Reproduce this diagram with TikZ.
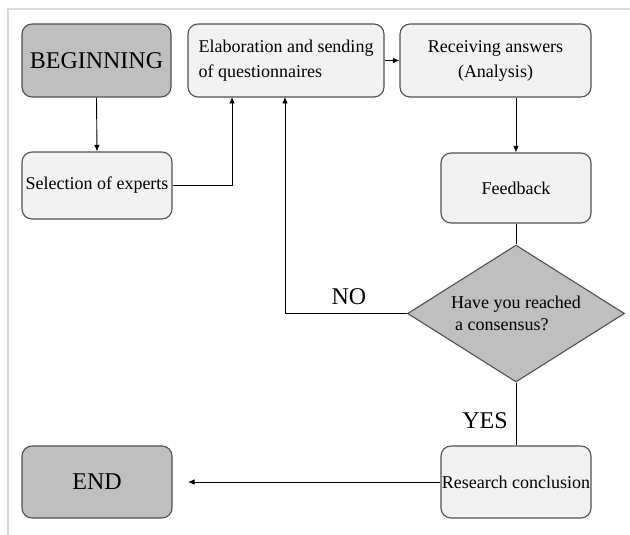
\documentclass[tikz,border=0pt]{standalone}
\usepackage{fontspec}
\setmainfont{Liberation Serif}
\usetikzlibrary{shapes.geometric,arrows.meta}
\definecolor{boxdark}{HTML}{BFBFBF}
\definecolor{boxlight}{HTML}{F2F2F2}
\definecolor{edge}{HTML}{505050}
\definecolor{frame}{HTML}{D9D9D9}
\tikzset{
  base/.style={draw=edge, line width=1.1pt, rounded corners=10pt, inner sep=0pt,
    font=\fontsize{18}{25}\selectfont, align=center},
  darkbox/.style={base, fill=boxdark, font=\fontsize{24}{28}\selectfont},
  lightbox/.style={base, fill=boxlight},
  decision/.style={diamond, draw=edge, line width=1.1pt, fill=boxdark, inner sep=0pt,
    minimum width=217pt, minimum height=137pt, aspect=1.584,
    font=\fontsize{18}{22}\selectfont, align=left},
  conn/.style={line width=0.9pt, draw=black},
  arr/.style={conn, -{Latex[length=6.5pt,width=5.5pt]}},
  lbl/.style={font=\fontsize{24}{28}\selectfont, inner sep=0pt}
}
\begin{document}
\begin{tikzpicture}[x=1pt,y=-1pt]
\useasboundingbox (0,0) rectangle (630,535);
% frame
\draw[frame, line width=2pt] (630,9) -- (8,9) -- (8,535);
% nodes
\node[darkbox, minimum width=149pt, minimum height=73pt] (begin) at (96.5,60.5) {BEGINNING};
\node[lightbox, align=left, minimum width=196pt, minimum height=73pt] (elab) at (286,60.5) {Elaboration and sending\\of questionnaires};
\node[lightbox, minimum width=191pt, minimum height=73pt] (recv) at (495.5,60.5) {Receiving answers\\(Analysis)};
\node[lightbox, minimum width=150pt, minimum height=67pt] (sel) at (97,185.5) {Selection of experts};
\node[lightbox, minimum width=150pt, minimum height=70pt] (fb) at (516,188) {Feedback};
\node[decision] (dia) at (516,313.5) {Have you reached\\\hspace{4pt}a consensus?};
\node[lightbox, minimum width=150pt, minimum height=72pt] (rc) at (516,482) {Research conclusion};
\node[darkbox, minimum width=150pt, minimum height=72pt] (end) at (97,482) {END};
% helper coordinates
\coordinate (e1) at (232,97);
\coordinate (e2) at (285,97);
\coordinate (etip) at (188,482);
% connectors
\draw[arr] (begin.south) -- (sel.north);
\draw[arr] (sel.east) -| (e1);
\draw[arr] (dia.west) -| (e2);
\draw[arr] (elab.east) -- (recv.west);
\draw[arr] (recv.south -| fb.north) -- (fb.north);
\draw[conn] (fb.south) -- (dia.north);
\draw[conn] (dia.south) -- (rc.north);
\draw[arr] (rc.west) -- (etip);
% labels
\node[lbl] (no) at (349,297) {NO};
\node[lbl] (yes) at (485,421) {YES};
\end{tikzpicture}
\end{document}
